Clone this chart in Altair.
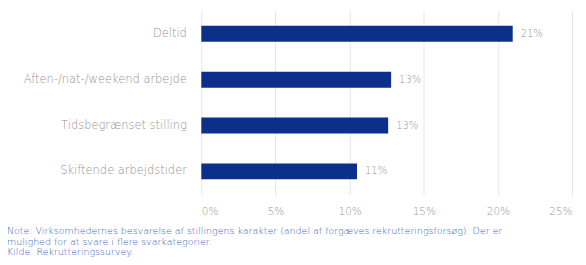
import altair as alt
import pandas as pd

categories = ["Deltid", "Aften-/nat-/weekend arbejde", "Tidsbegrænset stilling", "Skiftende arbejdstider"]
values = [21.0, 12.8, 12.6, 10.5]
value_labels = ["21%", "13%", "13%", "11%"]
x_ticks = [0, 5, 10, 15, 20, 25]
note_lines = [
    "Note: Virksomhedernes besvarelse af stillingens karakter (andel af forgæves rekrutteringsforsøg). Der er",
    "mulighed for at svare i flere svarkategorier.",
    "Kilde: Rekrutteringssurvey.",
]

df = pd.DataFrame({"cat": categories, "val": values, "lab": value_labels})

FONT = "DejaVu Sans"
y_enc = alt.Y("cat:N", sort=categories, title=None,
              scale=alt.Scale(paddingInner=0.652, paddingOuter=0.336),
              axis=alt.Axis(domain=False, ticks=False, grid=False, labelPadding=15,
                            labelFontSize=11.5, labelFontWeight=200, labelColor="#939393",
                            labelFont=FONT))
x_enc = alt.X("val:Q", title=None,
              scale=alt.Scale(domain=[0, 25], nice=False),
              axis=alt.Axis(values=x_ticks, domain=False, ticks=False, grid=True,
                            gridColor="#e6e6e6", labelExpr="datum.value + '%'",
                            labelPadding=12, labelFontSize=10.5, labelFontWeight=200,
                            labelColor="#939393", labelFont=FONT))

bars = alt.Chart(df).mark_bar(color="#0b2f8a").encode(x=x_enc, y=y_enc)
text = alt.Chart(df).mark_text(align="left", dx=8, fontSize=10, fontWeight=200,
                               color="#939393", font=FONT).encode(
    x="val:Q", y=alt.Y("cat:N", sort=categories), text="lab:N")

chart = (bars + text).properties(
    width=372, height=185,
    autosize=alt.AutoSizeParams(type="none"),
    padding={"left": 194, "top": 2, "right": 6, "bottom": 62},
    title=alt.TitleParams(text=note_lines, orient="bottom", anchor="start", frame="group",
                          dx=-195, offset=9, fontSize=9.5, fontWeight=200, color="#3a62b5",
                          font=FONT, lineHeight=10.5),
).configure_view(stroke=None)

chart.save("out.html", embed_options={"renderer": "svg", "actions": False})
